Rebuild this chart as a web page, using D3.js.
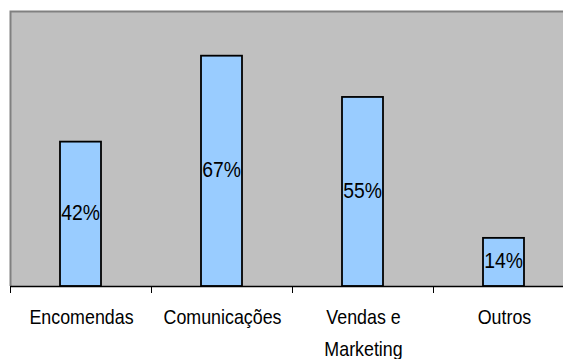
<!DOCTYPE html>
<html>
<head>
<meta charset="utf-8">
<script src="https://cdn.jsdelivr.net/npm/d3@7"></script>
<style>
  html, body { margin: 0; padding: 0; background: #fff; }
  svg { display: block; font-family: "Liberation Sans", Arial, sans-serif; }
</style>
</head>
<body>
<svg id="chart" width="563" height="359"></svg>
<script>
// Share of responses per area (%)
const categories = ["Encomendas", "Comunicações", "Vendas e\nMarketing", "Outros"];
const values = [42, 67, 55, 14];
const valueLabels = ["42%", "67%", "55%", "14%"];
const yDomain = [0, 80];

const svg = d3.select("#chart");
const plot = { left: 10, top: 11, bottom: 286, bandWidth: 141 };
const plotRight = plot.left + plot.bandWidth * categories.length;

const x = d3.scaleBand()
  .domain(categories)
  .range([plot.left, plotRight])
  .paddingInner(0).paddingOuter(0);

const y = d3.scaleLinear().domain(yDomain).range([plot.bottom, plot.top]);

const barWidth = 41;
const narrow = 0.85; // horizontal condensing of the label type

// Plot background with grey frame on top and left
svg.append("rect")
  .attr("x", plot.left).attr("y", plot.top)
  .attr("width", plotRight - plot.left).attr("height", plot.bottom - plot.top)
  .attr("fill", "#c0c0c0");
svg.append("path")
  .attr("d", `M${plot.left + 0.5},${plot.bottom} V${plot.top + 0.5} H${plotRight}`)
  .attr("fill", "none").attr("stroke", "#808080").attr("stroke-width", 2);

// Bars
svg.append("g").selectAll("rect")
  .data(values)
  .join("rect")
  .attr("x", (d, i) => x(categories[i]) + x.bandwidth() / 2 - barWidth / 2)
  .attr("y", d => y(d))
  .attr("width", barWidth)
  .attr("height", d => y(0) - y(d))
  .attr("fill", "#99ccff")
  .attr("stroke", "#000")
  .attr("stroke-width", 1.8);

// Value labels centred inside each bar
svg.append("g").selectAll("text")
  .data(values)
  .join("text")
  .attr("transform", (d, i) =>
    `translate(${x(categories[i]) + x.bandwidth() / 2},${(y(d) + y(0)) / 2 + 6.5}) scale(0.88,1)`)
  .attr("text-anchor", "middle")
  .attr("font-size", 22)
  .attr("fill", "#000")
  .text((d, i) => valueLabels[i]);

// Category axis
const xAxis = d3.axisBottom(x).tickSize(0).tickFormat("");
const axisG = svg.append("g")
  .attr("transform", `translate(0,${plot.bottom})`)
  .call(xAxis);
axisG.select(".domain").attr("stroke", "#000").attr("stroke-width", 1.5);

// Tick marks on band boundaries
const boundaries = categories.map(c => x(c)).concat([plotRight]);
axisG.selectAll("line.sep")
  .data(boundaries)
  .join("line")
  .attr("class", "sep")
  .attr("x1", d => d + 0.5).attr("x2", d => d + 0.5)
  .attr("y1", 0).attr("y2", 7)
  .attr("stroke", "#000").attr("stroke-width", 1);

// Category labels (multi-line where needed)
const labels = svg.append("g").selectAll("text")
  .data(categories)
  .join("text")
  .attr("text-anchor", "middle")
  .attr("font-size", 21)
  .attr("fill", "#000")
  .attr("transform", d => `translate(${x(d) + x.bandwidth() / 2 + 1},324) scale(${narrow},1)`);
labels.each(function(d) {
  const lines = d.split("\n");
  d3.select(this).selectAll("tspan")
    .data(lines)
    .join("tspan")
    .attr("x", 0)
    .attr("y", (l, i) => i * 32)
    .text(l => l);
});
</script>
</body>
</html>
